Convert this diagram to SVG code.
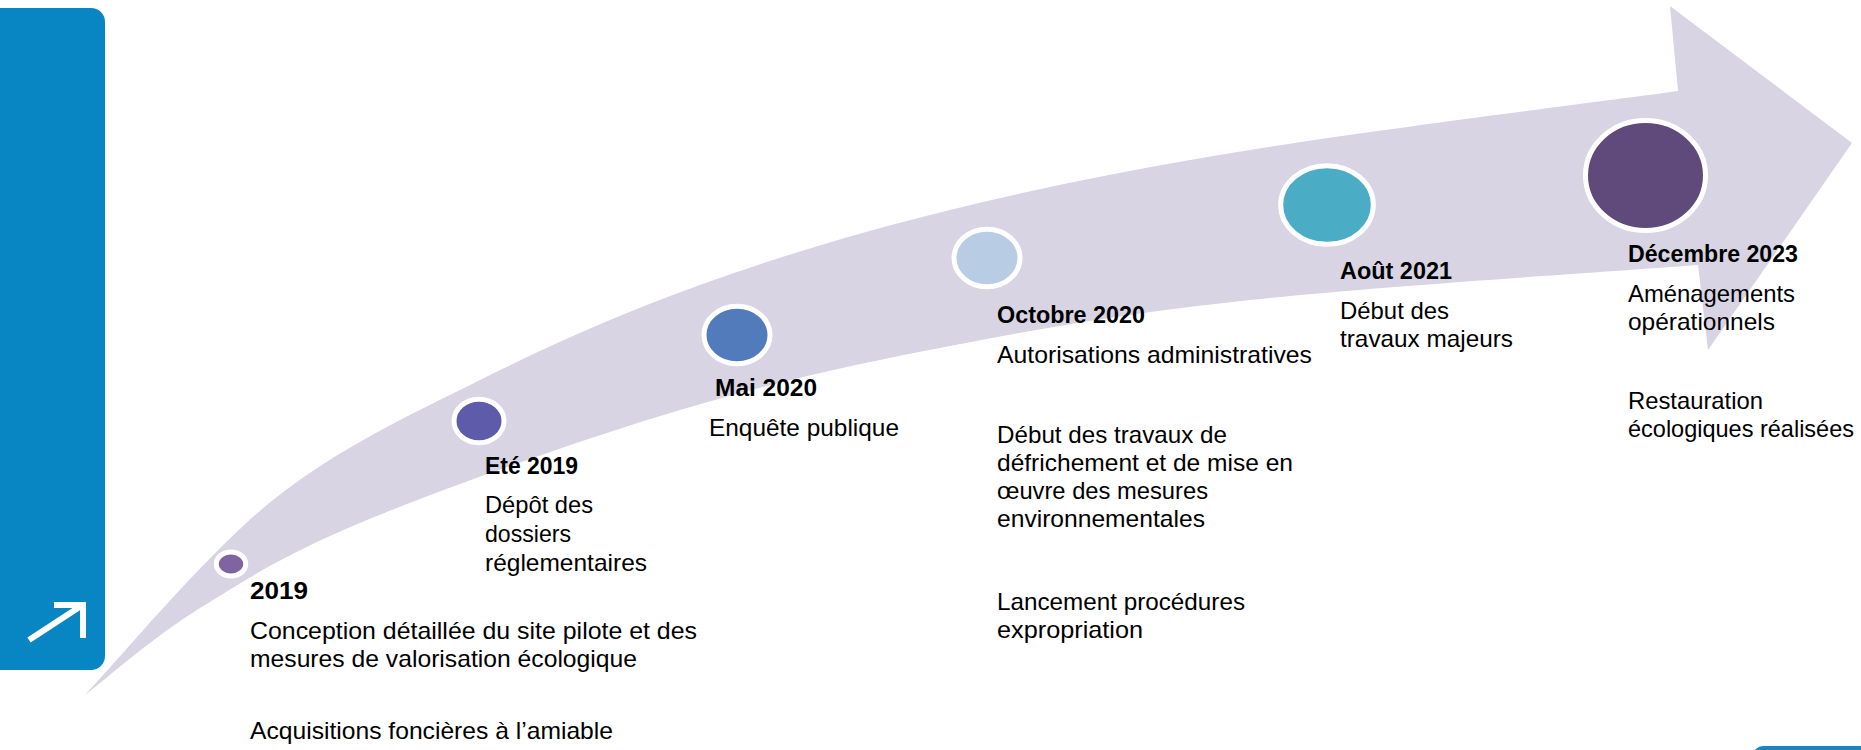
<svg xmlns="http://www.w3.org/2000/svg" width="1861" height="750" viewBox="0 0 1861 750">
  <style>
    .lbl { font-family: "Liberation Sans", Arial, sans-serif; font-size: 24px; fill: #000; }
    .hd { font-family: "Liberation Sans", Arial, sans-serif; font-size: 24px; font-weight: 700; fill: #000; }
    .dot { stroke: #ffffff; stroke-width: 5; }
  </style>
  <rect width="1861" height="750" fill="#ffffff"/>

  <g id="side-panel">
    <rect x="-20" y="8" width="125" height="662" rx="14" ry="14" fill="#0886c4"/>
    <path d="M29,640 L81,606 M54,605 L83,605 L83,638" fill="none" stroke="#ffffff" stroke-width="6" stroke-linecap="butt" stroke-linejoin="miter"/>
  </g>

  <g id="corner-tab">
    <rect x="1753" y="746" width="130" height="30" rx="10" ry="10" fill="#1a86c0"/>
  </g>

  <g id="connectors">
    <path id="timeline-arrow" fill="#d8d4e3" d="M85,695 C116.3,662.5 207.2,552.5 273,500 C338.8,447.5 408.8,415.8 480,380 C551.2,344.2 621.7,313.3 700,285 C778.3,256.7 858.3,232.5 950,210 C1041.7,187.5 1128.7,169.8 1250,150 C1371.3,130.2 1606.7,100.8 1678,91 L1670,6 L1852,143 L1708,350 L1698,265 C1623.3,270.8 1374.7,286.5 1250,300 C1125.3,313.5 1045,327.7 950,346 C855,364.3 777.2,381 680,410 C582.8,439 447,487 367,520 C287,553 247,578.8 200,608 C153,637.2 104.2,680.5 85,695 Z"/>
  </g>

  <g id="node-2019">
    <ellipse class="dot" cx="231" cy="564" rx="14.7" ry="12" fill="#8064a2"/>
    <text class="hd" x="250" y="599" textLength="58" lengthAdjust="spacingAndGlyphs">2019</text>
    <text class="lbl" x="250" y="639" textLength="447" lengthAdjust="spacingAndGlyphs">Conception détaillée du site pilote et des</text>
    <text class="lbl" x="250" y="667" textLength="387" lengthAdjust="spacingAndGlyphs">mesures de valorisation écologique</text>
    <text class="lbl" x="250" y="739" textLength="363" lengthAdjust="spacingAndGlyphs">Acquisitions foncières à l’amiable</text>
  </g>

  <g id="node-ete-2019">
    <ellipse class="dot" cx="479" cy="421" rx="25" ry="21.8" fill="#5f5bab"/>
    <text class="hd" x="485" y="474" textLength="93" lengthAdjust="spacingAndGlyphs">Eté 2019</text>
    <text class="lbl" x="485" y="513" textLength="108" lengthAdjust="spacingAndGlyphs">Dépôt des</text>
    <text class="lbl" x="485" y="542" textLength="86" lengthAdjust="spacingAndGlyphs">dossiers</text>
    <text class="lbl" x="485" y="571" textLength="162" lengthAdjust="spacingAndGlyphs">réglementaires</text>
  </g>

  <g id="node-mai-2020">
    <ellipse class="dot" cx="737" cy="335" rx="33" ry="28.7" fill="#517bba"/>
    <text class="hd" x="715" y="396" textLength="102" lengthAdjust="spacingAndGlyphs">Mai 2020</text>
    <text class="lbl" x="709" y="436" textLength="190" lengthAdjust="spacingAndGlyphs">Enquête publique</text>
  </g>

  <g id="node-octobre-2020">
    <ellipse class="dot" cx="987" cy="258" rx="33" ry="28.8" fill="#b8cce4"/>
    <text class="hd" x="997" y="323" textLength="148" lengthAdjust="spacingAndGlyphs">Octobre 2020</text>
    <text class="lbl" x="997" y="363" textLength="315" lengthAdjust="spacingAndGlyphs">Autorisations administratives</text>
    <text class="lbl" x="997" y="443" textLength="230" lengthAdjust="spacingAndGlyphs">Début des travaux de</text>
    <text class="lbl" x="997" y="471" textLength="296" lengthAdjust="spacingAndGlyphs">défrichement et de mise en</text>
    <text class="lbl" x="997" y="499" textLength="211" lengthAdjust="spacingAndGlyphs">œuvre des mesures</text>
    <text class="lbl" x="997" y="527" textLength="208" lengthAdjust="spacingAndGlyphs">environnementales</text>
    <text class="lbl" x="997" y="610" textLength="248" lengthAdjust="spacingAndGlyphs">Lancement procédures</text>
    <text class="lbl" x="997" y="638" textLength="146" lengthAdjust="spacingAndGlyphs">expropriation</text>
  </g>

  <g id="node-aout-2021">
    <ellipse class="dot" cx="1327" cy="205" rx="46.3" ry="39.3" fill="#4bacc6"/>
    <text class="hd" x="1340" y="279" textLength="112" lengthAdjust="spacingAndGlyphs">Août 2021</text>
    <text class="lbl" x="1340" y="319" textLength="109" lengthAdjust="spacingAndGlyphs">Début des</text>
    <text class="lbl" x="1340" y="347" textLength="173" lengthAdjust="spacingAndGlyphs">travaux majeurs</text>
  </g>

  <g id="node-decembre-2023">
    <ellipse class="dot" cx="1645.5" cy="175.5" rx="60" ry="55" fill="#604a7b"/>
    <text class="hd" x="1628" y="262" textLength="170" lengthAdjust="spacingAndGlyphs">Décembre 2023</text>
    <text class="lbl" x="1628" y="302" textLength="167" lengthAdjust="spacingAndGlyphs">Aménagements</text>
    <text class="lbl" x="1628" y="330" textLength="147" lengthAdjust="spacingAndGlyphs">opérationnels</text>
    <text class="lbl" x="1628" y="409" textLength="135" lengthAdjust="spacingAndGlyphs">Restauration</text>
    <text class="lbl" x="1628" y="437" textLength="226" lengthAdjust="spacingAndGlyphs">écologiques réalisées</text>
  </g>
</svg>
